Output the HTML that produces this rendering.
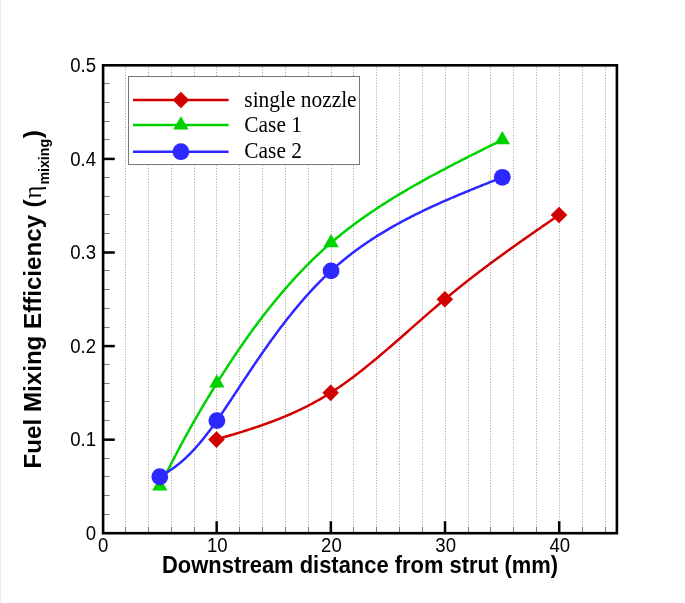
<!DOCTYPE html>
<html><head><meta charset="utf-8"><style>
html,body{margin:0;padding:0;background:#fff;}
body{width:685px;height:603px;overflow:hidden;position:relative;font-family:"Liberation Sans",sans-serif;}
svg{position:absolute;left:0;top:0;will-change:transform;}
.edge{position:absolute;left:0;top:0;width:1px;height:603px;background:#ececec;}
.edge2{position:absolute;left:1px;top:0;width:1px;height:603px;background:#fafafa;}
</style></head><body>
<div class="edge"></div><div class="edge2"></div>
<svg width="685" height="603" viewBox="0 0 685 603">
<line x1="125.50" y1="66.8" x2="125.50" y2="533.20" stroke="#a0a0a0" stroke-width="1" stroke-dasharray="1 1.7377"/>
<line x1="148.50" y1="66.8" x2="148.50" y2="533.20" stroke="#a0a0a0" stroke-width="1" stroke-dasharray="1 1.7377"/>
<line x1="171.50" y1="66.8" x2="171.50" y2="533.20" stroke="#a0a0a0" stroke-width="1" stroke-dasharray="1 1.7377"/>
<line x1="194.50" y1="66.8" x2="194.50" y2="533.20" stroke="#a0a0a0" stroke-width="1" stroke-dasharray="1 1.7377"/>
<line x1="216.50" y1="66.8" x2="216.50" y2="533.20" stroke="#a0a0a0" stroke-width="1" stroke-dasharray="1 1.7377"/>
<line x1="239.50" y1="66.8" x2="239.50" y2="533.20" stroke="#a0a0a0" stroke-width="1" stroke-dasharray="1 1.7377"/>
<line x1="262.50" y1="66.8" x2="262.50" y2="533.20" stroke="#a0a0a0" stroke-width="1" stroke-dasharray="1 1.7377"/>
<line x1="285.50" y1="66.8" x2="285.50" y2="533.20" stroke="#a0a0a0" stroke-width="1" stroke-dasharray="1 1.7377"/>
<line x1="308.50" y1="66.8" x2="308.50" y2="533.20" stroke="#a0a0a0" stroke-width="1" stroke-dasharray="1 1.7377"/>
<line x1="331.50" y1="66.8" x2="331.50" y2="533.20" stroke="#a0a0a0" stroke-width="1" stroke-dasharray="1 1.7377"/>
<line x1="353.50" y1="66.8" x2="353.50" y2="533.20" stroke="#a0a0a0" stroke-width="1" stroke-dasharray="1 1.7377"/>
<line x1="376.50" y1="66.8" x2="376.50" y2="533.20" stroke="#a0a0a0" stroke-width="1" stroke-dasharray="1 1.7377"/>
<line x1="399.50" y1="66.8" x2="399.50" y2="533.20" stroke="#a0a0a0" stroke-width="1" stroke-dasharray="1 1.7377"/>
<line x1="422.50" y1="66.8" x2="422.50" y2="533.20" stroke="#a0a0a0" stroke-width="1" stroke-dasharray="1 1.7377"/>
<line x1="445.50" y1="66.8" x2="445.50" y2="533.20" stroke="#a0a0a0" stroke-width="1" stroke-dasharray="1 1.7377"/>
<line x1="468.50" y1="66.8" x2="468.50" y2="533.20" stroke="#a0a0a0" stroke-width="1" stroke-dasharray="1 1.7377"/>
<line x1="490.50" y1="66.8" x2="490.50" y2="533.20" stroke="#a0a0a0" stroke-width="1" stroke-dasharray="1 1.7377"/>
<line x1="513.50" y1="66.8" x2="513.50" y2="533.20" stroke="#a0a0a0" stroke-width="1" stroke-dasharray="1 1.7377"/>
<line x1="536.50" y1="66.8" x2="536.50" y2="533.20" stroke="#a0a0a0" stroke-width="1" stroke-dasharray="1 1.7377"/>
<line x1="559.50" y1="66.8" x2="559.50" y2="533.20" stroke="#a0a0a0" stroke-width="1" stroke-dasharray="1 1.7377"/>
<line x1="582.50" y1="66.8" x2="582.50" y2="533.20" stroke="#a0a0a0" stroke-width="1" stroke-dasharray="1 1.7377"/>
<line x1="605.50" y1="66.8" x2="605.50" y2="533.20" stroke="#a0a0a0" stroke-width="1" stroke-dasharray="1 1.7377"/>
<rect x="128.5" y="76.5" width="231" height="88" fill="#fff" stroke="#777" stroke-width="1"/>
<line x1="133" y1="100" x2="228.6" y2="100" stroke="#d20000" stroke-width="2.5"/>
<path d="M180.90,91.70 L189.20,100.00 L180.90,108.30 L172.60,100.00Z" fill="#d20000"/>
<line x1="133" y1="125.1" x2="228.6" y2="125.1" stroke="#00d200" stroke-width="2.5"/>
<path d="M180.90,116.20 L188.60,129.50 L173.20,129.50Z" fill="#00d200"/>
<line x1="133" y1="151.7" x2="228.6" y2="151.7" stroke="#2d28ff" stroke-width="2.5"/>
<circle cx="180.90" cy="151.70" r="8.4" fill="#2d28ff"/>
<g font-family="Liberation Serif" font-size="21.4" fill="#000">
<text transform="translate(244.30,106.50) scale(1,1.07)" >single nozzle</text>
<text transform="translate(244.30,132.00) scale(1,1.07)" >Case 1</text>
<text transform="translate(244.30,157.50) scale(1,1.07)" >Case 2</text>
</g>
<line x1="103.10" y1="514.50" x2="109.60" y2="514.50" stroke="#808080" stroke-width="1"/>
<line x1="103.10" y1="495.50" x2="109.60" y2="495.50" stroke="#808080" stroke-width="1"/>
<line x1="103.10" y1="476.50" x2="109.60" y2="476.50" stroke="#808080" stroke-width="1"/>
<line x1="103.10" y1="458.50" x2="109.60" y2="458.50" stroke="#808080" stroke-width="1"/>
<line x1="103.10" y1="439.67" x2="114.80" y2="439.67" stroke="#000" stroke-width="2.5"/>
<line x1="103.10" y1="420.50" x2="109.60" y2="420.50" stroke="#808080" stroke-width="1"/>
<line x1="103.10" y1="401.50" x2="109.60" y2="401.50" stroke="#808080" stroke-width="1"/>
<line x1="103.10" y1="383.50" x2="109.60" y2="383.50" stroke="#808080" stroke-width="1"/>
<line x1="103.10" y1="364.50" x2="109.60" y2="364.50" stroke="#808080" stroke-width="1"/>
<line x1="103.10" y1="346.09" x2="114.80" y2="346.09" stroke="#000" stroke-width="2.5"/>
<line x1="103.10" y1="327.50" x2="109.60" y2="327.50" stroke="#808080" stroke-width="1"/>
<line x1="103.10" y1="308.50" x2="109.60" y2="308.50" stroke="#808080" stroke-width="1"/>
<line x1="103.10" y1="289.50" x2="109.60" y2="289.50" stroke="#808080" stroke-width="1"/>
<line x1="103.10" y1="270.50" x2="109.60" y2="270.50" stroke="#808080" stroke-width="1"/>
<line x1="103.10" y1="252.51" x2="114.80" y2="252.51" stroke="#000" stroke-width="2.5"/>
<line x1="103.10" y1="233.50" x2="109.60" y2="233.50" stroke="#808080" stroke-width="1"/>
<line x1="103.10" y1="214.50" x2="109.60" y2="214.50" stroke="#808080" stroke-width="1"/>
<line x1="103.10" y1="196.50" x2="109.60" y2="196.50" stroke="#808080" stroke-width="1"/>
<line x1="103.10" y1="177.50" x2="109.60" y2="177.50" stroke="#808080" stroke-width="1"/>
<line x1="103.10" y1="158.93" x2="114.80" y2="158.93" stroke="#000" stroke-width="2.5"/>
<line x1="103.10" y1="139.50" x2="109.60" y2="139.50" stroke="#808080" stroke-width="1"/>
<line x1="103.10" y1="121.50" x2="109.60" y2="121.50" stroke="#808080" stroke-width="1"/>
<line x1="103.10" y1="102.50" x2="109.60" y2="102.50" stroke="#808080" stroke-width="1"/>
<line x1="103.10" y1="83.50" x2="109.60" y2="83.50" stroke="#808080" stroke-width="1"/>
<line x1="125.50" y1="533.20" x2="125.50" y2="526.70" stroke="#808080" stroke-width="1"/>
<line x1="148.50" y1="533.20" x2="148.50" y2="526.70" stroke="#808080" stroke-width="1"/>
<line x1="171.50" y1="533.20" x2="171.50" y2="526.70" stroke="#808080" stroke-width="1"/>
<line x1="194.50" y1="533.20" x2="194.50" y2="526.70" stroke="#808080" stroke-width="1"/>
<line x1="216.68" y1="533.20" x2="216.68" y2="521.20" stroke="#000" stroke-width="2.5"/>
<line x1="239.50" y1="533.20" x2="239.50" y2="526.70" stroke="#808080" stroke-width="1"/>
<line x1="262.50" y1="533.20" x2="262.50" y2="526.70" stroke="#808080" stroke-width="1"/>
<line x1="285.50" y1="533.20" x2="285.50" y2="526.70" stroke="#808080" stroke-width="1"/>
<line x1="308.50" y1="533.20" x2="308.50" y2="526.70" stroke="#808080" stroke-width="1"/>
<line x1="330.86" y1="533.20" x2="330.86" y2="521.20" stroke="#000" stroke-width="2.5"/>
<line x1="353.50" y1="533.20" x2="353.50" y2="526.70" stroke="#808080" stroke-width="1"/>
<line x1="376.50" y1="533.20" x2="376.50" y2="526.70" stroke="#808080" stroke-width="1"/>
<line x1="399.50" y1="533.20" x2="399.50" y2="526.70" stroke="#808080" stroke-width="1"/>
<line x1="422.50" y1="533.20" x2="422.50" y2="526.70" stroke="#808080" stroke-width="1"/>
<line x1="445.03" y1="533.20" x2="445.03" y2="521.20" stroke="#000" stroke-width="2.5"/>
<line x1="468.50" y1="533.20" x2="468.50" y2="526.70" stroke="#808080" stroke-width="1"/>
<line x1="490.50" y1="533.20" x2="490.50" y2="526.70" stroke="#808080" stroke-width="1"/>
<line x1="513.50" y1="533.20" x2="513.50" y2="526.70" stroke="#808080" stroke-width="1"/>
<line x1="536.50" y1="533.20" x2="536.50" y2="526.70" stroke="#808080" stroke-width="1"/>
<line x1="559.21" y1="533.20" x2="559.21" y2="521.20" stroke="#000" stroke-width="2.5"/>
<line x1="582.50" y1="533.20" x2="582.50" y2="526.70" stroke="#808080" stroke-width="1"/>
<line x1="605.50" y1="533.20" x2="605.50" y2="526.70" stroke="#808080" stroke-width="1"/>
<rect x="103.10" y="65.30" width="513.80" height="467.90" fill="none" stroke="#000" stroke-width="2.6"/>
<g font-family="Liberation Sans" font-size="18.6" fill="#000">
<text transform="translate(96.00,539.90) scale(1,1.07)" text-anchor="end">0</text>
<text transform="translate(96.00,446.32) scale(1,1.07)" text-anchor="end">0.1</text>
<text transform="translate(96.00,352.74) scale(1,1.07)" text-anchor="end">0.2</text>
<text transform="translate(96.00,259.16) scale(1,1.07)" text-anchor="end">0.3</text>
<text transform="translate(96.00,165.58) scale(1,1.07)" text-anchor="end">0.4</text>
<text transform="translate(96.00,72.00) scale(1,1.07)" text-anchor="end">0.5</text>
<text transform="translate(103.10,552.20) scale(1,1.07)" text-anchor="middle">0</text>
<text transform="translate(217.28,552.20) scale(1,1.07)" text-anchor="middle">10</text>
<text transform="translate(331.46,552.20) scale(1,1.07)" text-anchor="middle">20</text>
<text transform="translate(445.63,552.20) scale(1,1.07)" text-anchor="middle">30</text>
<text transform="translate(559.81,552.20) scale(1,1.07)" text-anchor="middle">40</text>
</g>
<text transform="translate(162.00,573.00) scale(1,1.07)" font-family="Liberation Sans" font-weight="bold" font-size="22.2" textLength="396" lengthAdjust="spacingAndGlyphs">Downstream distance from strut (mm)</text>
<g transform="translate(40.8,0) rotate(-90)" font-family="Liberation Sans" font-weight="bold" fill="#000">
<text x="-468.4" y="0" font-size="24.5" textLength="253.5" lengthAdjust="spacingAndGlyphs">Fuel Mixing Efficiency</text>
<text x="-207.6" y="0" font-size="24.5">(</text>
<text x="-198.5" y="0" font-size="24.5" font-weight="normal" font-family="Liberation Serif">η</text>
<text x="-184.6" y="8.2" font-size="14.2">mixing</text>
<text x="-138.2" y="0" font-size="24.5">)</text>
</g>
<path d="M216.88,439.32 L217.74,439.07 L218.59,438.81 L219.45,438.56 L220.31,438.31 L221.17,438.05 L222.03,437.80 L222.89,437.54 L223.75,437.29 L224.60,437.04 L225.46,436.78 L226.32,436.53 L227.18,436.27 L228.04,436.01 L228.90,435.76 L229.75,435.50 L230.61,435.24 L231.47,434.99 L232.33,434.73 L233.19,434.47 L234.05,434.21 L234.91,433.95 L235.76,433.69 L236.62,433.43 L237.48,433.16 L238.34,432.90 L239.20,432.64 L240.06,432.37 L240.92,432.11 L241.77,431.84 L242.63,431.57 L243.49,431.30 L244.35,431.03 L245.21,430.76 L246.07,430.49 L246.92,430.22 L247.78,429.94 L248.64,429.67 L249.50,429.39 L250.36,429.11 L251.22,428.83 L252.08,428.55 L252.93,428.27 L253.79,427.99 L254.65,427.70 L255.51,427.41 L256.37,427.13 L257.23,426.84 L258.08,426.55 L258.94,426.25 L259.80,425.96 L260.66,425.66 L261.52,425.37 L262.38,425.07 L263.24,424.76 L264.09,424.46 L264.95,424.16 L265.81,423.85 L266.67,423.54 L267.53,423.23 L268.39,422.92 L269.25,422.60 L270.10,422.29 L270.96,421.97 L271.82,421.65 L272.68,421.33 L273.54,421.00 L274.40,420.67 L275.25,420.34 L276.11,420.01 L276.97,419.68 L277.83,419.34 L278.69,419.00 L279.55,418.66 L280.41,418.32 L281.26,417.97 L282.12,417.62 L282.98,417.27 L283.84,416.92 L284.70,416.56 L285.56,416.20 L286.41,415.84 L287.27,415.48 L288.13,415.11 L288.99,414.74 L289.85,414.37 L290.71,413.99 L291.57,413.62 L292.42,413.23 L293.28,412.85 L294.14,412.46 L295.00,412.07 L295.86,411.68 L296.72,411.28 L297.57,410.88 L298.43,410.48 L299.29,410.08 L300.15,409.67 L301.01,409.26 L301.87,408.84 L302.73,408.42 L303.58,408.00 L304.44,407.57 L305.30,407.15 L306.16,406.71 L307.02,406.28 L307.88,405.84 L308.74,405.40 L309.59,404.95 L310.45,404.50 L311.31,404.05 L312.17,403.59 L313.03,403.13 L313.89,402.66 L314.74,402.19 L315.60,401.72 L316.46,401.25 L317.32,400.77 L318.18,400.28 L319.04,399.79 L319.90,399.30 L320.75,398.81 L321.61,398.31 L322.47,397.80 L323.33,397.29 L324.19,396.78 L325.05,396.26 L325.90,395.74 L326.76,395.22 L327.62,394.69 L328.48,394.16 L329.34,393.62 L330.20,393.08 L331.06,392.53 L331.91,391.98 L332.77,391.42 L333.63,390.86 L334.49,390.30 L335.35,389.73 L336.21,389.16 L337.06,388.58 L337.92,388.00 L338.78,387.42 L339.64,386.83 L340.50,386.23 L341.36,385.64 L342.22,385.04 L343.07,384.43 L343.93,383.82 L344.79,383.21 L345.65,382.60 L346.51,381.98 L347.37,381.35 L348.23,380.73 L349.08,380.10 L349.94,379.47 L350.80,378.83 L351.66,378.19 L352.52,377.55 L353.38,376.90 L354.23,376.25 L355.09,375.60 L355.95,374.94 L356.81,374.28 L357.67,373.62 L358.53,372.95 L359.39,372.29 L360.24,371.61 L361.10,370.94 L361.96,370.26 L362.82,369.58 L363.68,368.90 L364.54,368.22 L365.39,367.53 L366.25,366.84 L367.11,366.15 L367.97,365.46 L368.83,364.76 L369.69,364.06 L370.55,363.36 L371.40,362.65 L372.26,361.95 L373.12,361.24 L373.98,360.53 L374.84,359.82 L375.70,359.10 L376.55,358.39 L377.41,357.67 L378.27,356.95 L379.13,356.23 L379.99,355.50 L380.85,354.78 L381.71,354.05 L382.56,353.32 L383.42,352.59 L384.28,351.86 L385.14,351.13 L386.00,350.39 L386.86,349.65 L387.72,348.92 L388.57,348.18 L389.43,347.44 L390.29,346.70 L391.15,345.95 L392.01,345.21 L392.87,344.47 L393.72,343.72 L394.58,342.97 L395.44,342.23 L396.30,341.48 L397.16,340.73 L398.02,339.98 L398.88,339.23 L399.73,338.48 L400.59,337.73 L401.45,336.97 L402.31,336.22 L403.17,335.47 L404.03,334.71 L404.88,333.96 L405.74,333.20 L406.60,332.45 L407.46,331.69 L408.32,330.94 L409.18,330.18 L410.04,329.43 L410.89,328.67 L411.75,327.92 L412.61,327.16 L413.47,326.40 L414.33,325.65 L415.19,324.89 L416.05,324.14 L416.90,323.38 L417.76,322.63 L418.62,321.88 L419.48,321.12 L420.34,320.37 L421.20,319.62 L422.05,318.87 L422.91,318.11 L423.77,317.36 L424.63,316.61 L425.49,315.86 L426.35,315.12 L427.21,314.37 L428.06,313.62 L428.92,312.88 L429.78,312.13 L430.64,311.39 L431.50,310.64 L432.36,309.90 L433.21,309.16 L434.07,308.42 L434.93,307.69 L435.79,306.95 L436.65,306.21 L437.51,305.48 L438.37,304.75 L439.22,304.02 L440.08,303.29 L440.94,302.56 L441.80,301.84 L442.66,301.11 L443.52,300.39 L444.37,299.67 L445.23,298.95 L446.09,298.23 L446.95,297.52 L447.81,296.81 L448.67,296.09 L449.53,295.39 L450.38,294.68 L451.24,293.97 L452.10,293.27 L452.96,292.57 L453.82,291.87 L454.68,291.17 L455.54,290.47 L456.39,289.78 L457.25,289.08 L458.11,288.39 L458.97,287.70 L459.83,287.01 L460.69,286.33 L461.54,285.64 L462.40,284.96 L463.26,284.28 L464.12,283.60 L464.98,282.92 L465.84,282.24 L466.70,281.57 L467.55,280.89 L468.41,280.22 L469.27,279.55 L470.13,278.88 L470.99,278.21 L471.85,277.55 L472.70,276.88 L473.56,276.22 L474.42,275.56 L475.28,274.90 L476.14,274.24 L477.00,273.58 L477.86,272.92 L478.71,272.27 L479.57,271.61 L480.43,270.96 L481.29,270.31 L482.15,269.66 L483.01,269.01 L483.86,268.37 L484.72,267.72 L485.58,267.07 L486.44,266.43 L487.30,265.79 L488.16,265.15 L489.02,264.51 L489.87,263.87 L490.73,263.23 L491.59,262.60 L492.45,261.96 L493.31,261.33 L494.17,260.69 L495.03,260.06 L495.88,259.43 L496.74,258.80 L497.60,258.17 L498.46,257.55 L499.32,256.92 L500.18,256.29 L501.03,255.67 L501.89,255.04 L502.75,254.42 L503.61,253.80 L504.47,253.18 L505.33,252.56 L506.19,251.94 L507.04,251.32 L507.90,250.71 L508.76,250.09 L509.62,249.47 L510.48,248.86 L511.34,248.24 L512.19,247.63 L513.05,247.02 L513.91,246.41 L514.77,245.80 L515.63,245.19 L516.49,244.58 L517.35,243.97 L518.20,243.36 L519.06,242.75 L519.92,242.15 L520.78,241.54 L521.64,240.94 L522.50,240.33 L523.35,239.73 L524.21,239.12 L525.07,238.52 L525.93,237.92 L526.79,237.32 L527.65,236.72 L528.51,236.12 L529.36,235.52 L530.22,234.92 L531.08,234.32 L531.94,233.72 L532.80,233.12 L533.66,232.52 L534.52,231.93 L535.37,231.33 L536.23,230.73 L537.09,230.14 L537.95,229.54 L538.81,228.95 L539.67,228.35 L540.52,227.76 L541.38,227.16 L542.24,226.57 L543.10,225.97 L543.96,225.38 L544.82,224.79 L545.68,224.19 L546.53,223.60 L547.39,223.01 L548.25,222.42 L549.11,221.82 L549.97,221.23 L550.83,220.64 L551.68,220.05 L552.54,219.46 L553.40,218.87 L554.26,218.27 L555.12,217.68 L555.98,217.09 L556.84,216.50 L557.69,215.91 L558.55,215.32 L559.41,214.73" fill="none" stroke="#d20000" stroke-width="2.5" stroke-linejoin="round"/>
<path d="M216.48,431.32 L224.78,439.62 L216.48,447.92 L208.18,439.62Z" fill="#d20000"/>
<path d="M330.66,384.53 L338.96,392.83 L330.66,401.13 L322.36,392.83Z" fill="#d20000"/>
<path d="M444.83,290.95 L453.13,299.25 L444.83,307.55 L436.53,299.25Z" fill="#d20000"/>
<path d="M559.01,206.73 L567.31,215.03 L559.01,223.33 L550.71,215.03Z" fill="#d20000"/>
<path d="M159.79,486.11 L160.13,485.43 L160.48,484.75 L160.82,484.07 L161.16,483.39 L161.51,482.71 L161.85,482.03 L162.19,481.35 L162.54,480.67 L162.88,479.98 L163.23,479.30 L163.57,478.62 L163.92,477.94 L164.26,477.26 L164.61,476.57 L164.96,475.89 L165.30,475.21 L165.65,474.52 L166.00,473.84 L166.35,473.15 L166.70,472.46 L167.05,471.78 L167.40,471.09 L167.75,470.40 L168.10,469.71 L168.45,469.02 L168.80,468.33 L169.16,467.64 L169.51,466.95 L169.87,466.26 L170.22,465.56 L170.58,464.87 L170.94,464.17 L171.30,463.47 L171.65,462.78 L172.02,462.08 L172.38,461.38 L172.74,460.68 L173.10,459.97 L173.47,459.27 L173.84,458.56 L174.20,457.86 L174.57,457.15 L174.94,456.44 L175.31,455.73 L175.68,455.02 L176.06,454.31 L176.43,453.59 L176.81,452.88 L177.19,452.16 L177.57,451.44 L177.95,450.72 L178.33,450.00 L178.71,449.27 L179.10,448.55 L179.48,447.82 L179.87,447.09 L180.26,446.36 L180.65,445.63 L181.05,444.89 L181.44,444.16 L181.84,443.42 L182.24,442.68 L182.64,441.93 L183.04,441.19 L183.44,440.44 L183.85,439.69 L184.26,438.94 L184.67,438.19 L185.08,437.44 L185.49,436.68 L185.91,435.92 L186.32,435.16 L186.74,434.40 L187.17,433.63 L187.59,432.86 L188.02,432.09 L188.45,431.32 L188.88,430.54 L189.31,429.76 L189.75,428.98 L190.18,428.20 L190.62,427.41 L191.07,426.62 L191.51,425.83 L191.96,425.04 L192.41,424.24 L192.86,423.44 L193.31,422.64 L193.77,421.84 L194.23,421.03 L194.69,420.22 L195.16,419.41 L195.63,418.59 L196.10,417.77 L196.57,416.95 L197.05,416.12 L197.53,415.29 L198.01,414.46 L198.49,413.63 L198.98,412.79 L199.47,411.95 L199.97,411.11 L200.46,410.26 L200.96,409.41 L201.46,408.55 L201.97,407.70 L202.48,406.84 L202.99,405.97 L203.50,405.10 L204.02,404.23 L204.54,403.36 L205.07,402.48 L205.59,401.60 L206.13,400.71 L206.66,399.83 L207.20,398.93 L207.74,398.04 L208.28,397.14 L208.83,396.23 L209.38,395.33 L209.94,394.42 L210.50,393.50 L211.06,392.58 L211.62,391.66 L212.19,390.73 L212.76,389.80 L213.34,388.87 L213.92,387.93 L214.50,386.98 L215.09,386.04 L215.68,385.09 L216.28,384.13 L216.88,383.17 L217.48,382.21 L218.09,381.24 L218.70,380.27 L219.31,379.29 L219.93,378.31 L220.55,377.33 L221.18,376.34 L221.81,375.35 L222.44,374.35 L223.08,373.36 L223.72,372.35 L224.37,371.35 L225.02,370.34 L225.67,369.32 L226.33,368.31 L226.99,367.29 L227.65,366.27 L228.32,365.24 L228.99,364.21 L229.67,363.18 L230.35,362.14 L231.04,361.11 L231.72,360.06 L232.42,359.02 L233.11,357.98 L233.81,356.93 L234.51,355.87 L235.22,354.82 L235.93,353.76 L236.65,352.71 L237.37,351.64 L238.09,350.58 L238.82,349.52 L239.55,348.45 L240.28,347.38 L241.02,346.31 L241.76,345.23 L242.51,344.16 L243.26,343.08 L244.01,342.00 L244.77,340.92 L245.53,339.84 L246.30,338.75 L247.07,337.67 L247.84,336.58 L248.62,335.49 L249.40,334.40 L250.18,333.31 L250.97,332.22 L251.77,331.13 L252.56,330.03 L253.36,328.94 L254.17,327.84 L254.97,326.75 L255.79,325.65 L256.60,324.55 L257.42,323.45 L258.25,322.35 L259.07,321.25 L259.91,320.15 L260.74,319.05 L261.58,317.95 L262.42,316.84 L263.27,315.74 L264.12,314.64 L264.97,313.54 L265.83,312.44 L266.70,311.33 L267.56,310.23 L268.43,309.13 L269.31,308.03 L270.18,306.93 L271.07,305.82 L271.95,304.72 L272.84,303.62 L273.73,302.52 L274.63,301.42 L275.53,300.33 L276.44,299.23 L277.35,298.13 L278.26,297.04 L279.17,295.94 L280.10,294.85 L281.02,293.75 L281.95,292.66 L282.88,291.57 L283.82,290.48 L284.76,289.39 L285.70,288.31 L286.65,287.22 L287.60,286.14 L288.55,285.05 L289.51,283.97 L290.48,282.89 L291.44,281.82 L292.41,280.74 L293.39,279.67 L294.37,278.60 L295.35,277.53 L296.34,276.46 L297.33,275.39 L298.32,274.33 L299.32,273.27 L300.32,272.21 L301.33,271.15 L302.33,270.10 L303.35,269.05 L304.37,268.00 L305.39,266.95 L306.41,265.91 L307.44,264.87 L308.47,263.83 L309.51,262.80 L310.55,261.76 L311.59,260.73 L312.64,259.71 L313.69,258.69 L314.75,257.67 L315.81,256.65 L316.87,255.64 L317.94,254.63 L319.01,253.62 L320.09,252.62 L321.17,251.62 L322.25,250.62 L323.34,249.63 L324.43,248.65 L325.52,247.66 L326.62,246.68 L327.72,245.71 L328.83,244.73 L329.94,243.77 L331.06,242.80 L332.17,241.84 L333.30,240.89 L334.42,239.94 L335.55,238.99 L336.68,238.05 L337.82,237.11 L338.96,236.17 L340.11,235.24 L341.25,234.32 L342.40,233.39 L343.56,232.47 L344.72,231.56 L345.88,230.65 L347.05,229.74 L348.22,228.84 L349.39,227.94 L350.56,227.04 L351.74,226.15 L352.93,225.26 L354.11,224.37 L355.30,223.49 L356.49,222.61 L357.69,221.74 L358.89,220.87 L360.09,220.00 L361.30,219.14 L362.50,218.28 L363.72,217.42 L364.93,216.57 L366.15,215.72 L367.37,214.87 L368.59,214.02 L369.82,213.18 L371.05,212.35 L372.28,211.51 L373.52,210.68 L374.75,209.85 L375.99,209.03 L377.24,208.20 L378.48,207.38 L379.73,206.57 L380.98,205.75 L382.24,204.94 L383.50,204.14 L384.76,203.33 L386.02,202.53 L387.28,201.73 L388.55,200.93 L389.82,200.14 L391.09,199.35 L392.37,198.56 L393.64,197.78 L394.92,196.99 L396.20,196.21 L397.49,195.43 L398.77,194.66 L400.06,193.88 L401.35,193.11 L402.64,192.34 L403.94,191.58 L405.24,190.81 L406.54,190.05 L407.84,189.29 L409.14,188.54 L410.45,187.78 L411.75,187.03 L413.06,186.28 L414.37,185.53 L415.69,184.78 L417.00,184.04 L418.32,183.30 L419.64,182.56 L420.96,181.82 L422.28,181.08 L423.60,180.35 L424.93,179.62 L426.25,178.88 L427.58,178.15 L428.91,177.43 L430.25,176.70 L431.58,175.98 L432.91,175.26 L434.25,174.53 L435.59,173.82 L436.93,173.10 L438.27,172.38 L439.61,171.67 L440.95,170.95 L442.30,170.24 L443.64,169.53 L444.99,168.82 L446.34,168.12 L447.69,167.41 L449.04,166.70 L450.39,166.00 L451.75,165.30 L453.10,164.60 L454.46,163.90 L455.81,163.20 L457.17,162.50 L458.53,161.80 L459.89,161.11 L461.25,160.41 L462.61,159.72 L463.97,159.02 L465.33,158.33 L466.69,157.64 L468.06,156.95 L469.42,156.26 L470.79,155.57 L472.16,154.88 L473.52,154.20 L474.89,153.51 L476.26,152.82 L477.63,152.14 L479.00,151.45 L480.37,150.77 L481.74,150.08 L483.11,149.40 L484.48,148.72 L485.85,148.04 L487.22,147.35 L488.59,146.67 L489.96,145.99 L491.34,145.31 L492.71,144.63 L494.08,143.95 L495.45,143.27 L496.83,142.58 L498.20,141.90 L499.58,141.22 L500.95,140.54 L502.32,139.86" fill="none" stroke="#00d200" stroke-width="2.5" stroke-linejoin="round"/>
<path d="M159.79,477.21 L167.49,490.51 L152.09,490.51Z" fill="#00d200"/>
<path d="M216.88,374.27 L224.58,387.57 L209.18,387.57Z" fill="#00d200"/>
<path d="M331.06,233.90 L338.76,247.20 L323.36,247.20Z" fill="#00d200"/>
<path d="M502.32,130.96 L510.02,144.26 L494.62,144.26Z" fill="#00d200"/>
<path d="M159.79,476.75 L160.13,476.55 L160.48,476.34 L160.82,476.13 L161.16,475.93 L161.51,475.72 L161.85,475.51 L162.19,475.30 L162.54,475.09 L162.88,474.89 L163.23,474.68 L163.57,474.47 L163.92,474.25 L164.26,474.04 L164.61,473.83 L164.96,473.61 L165.30,473.40 L165.65,473.18 L166.00,472.97 L166.35,472.75 L166.70,472.53 L167.05,472.30 L167.40,472.08 L167.75,471.86 L168.10,471.63 L168.45,471.40 L168.80,471.17 L169.16,470.94 L169.51,470.71 L169.87,470.47 L170.22,470.23 L170.58,469.99 L170.94,469.75 L171.30,469.50 L171.65,469.26 L172.02,469.01 L172.38,468.75 L172.74,468.50 L173.10,468.24 L173.47,467.98 L173.84,467.72 L174.20,467.45 L174.57,467.18 L174.94,466.91 L175.31,466.63 L175.68,466.35 L176.06,466.07 L176.43,465.79 L176.81,465.50 L177.19,465.20 L177.57,464.91 L177.95,464.61 L178.33,464.30 L178.71,464.00 L179.10,463.69 L179.48,463.37 L179.87,463.05 L180.26,462.73 L180.65,462.40 L181.05,462.07 L181.44,461.73 L181.84,461.39 L182.24,461.05 L182.64,460.70 L183.04,460.35 L183.44,459.99 L183.85,459.62 L184.26,459.25 L184.67,458.88 L185.08,458.50 L185.49,458.12 L185.91,457.73 L186.32,457.34 L186.74,456.94 L187.17,456.54 L187.59,456.13 L188.02,455.71 L188.45,455.29 L188.88,454.86 L189.31,454.43 L189.75,454.00 L190.18,453.55 L190.62,453.10 L191.07,452.65 L191.51,452.19 L191.96,451.72 L192.41,451.24 L192.86,450.76 L193.31,450.28 L193.77,449.78 L194.23,449.28 L194.69,448.78 L195.16,448.27 L195.63,447.75 L196.10,447.22 L196.57,446.69 L197.05,446.15 L197.53,445.60 L198.01,445.04 L198.49,444.48 L198.98,443.91 L199.47,443.34 L199.97,442.76 L200.46,442.16 L200.96,441.57 L201.46,440.96 L201.97,440.35 L202.48,439.72 L202.99,439.10 L203.50,438.46 L204.02,437.81 L204.54,437.16 L205.07,436.50 L205.59,435.83 L206.13,435.15 L206.66,434.47 L207.20,433.77 L207.74,433.07 L208.28,432.36 L208.83,431.64 L209.38,430.91 L209.94,430.17 L210.50,429.42 L211.06,428.67 L211.62,427.90 L212.19,427.13 L212.76,426.35 L213.34,425.55 L213.92,424.75 L214.50,423.94 L215.09,423.12 L215.68,422.29 L216.28,421.45 L216.88,420.60 L217.48,419.75 L218.09,418.88 L218.70,418.00 L219.31,417.11 L219.93,416.22 L220.55,415.31 L221.18,414.40 L221.81,413.47 L222.44,412.54 L223.08,411.60 L223.72,410.65 L224.37,409.70 L225.02,408.73 L225.67,407.76 L226.33,406.77 L226.99,405.79 L227.65,404.79 L228.32,403.78 L228.99,402.77 L229.67,401.75 L230.35,400.73 L231.04,399.69 L231.72,398.65 L232.42,397.60 L233.11,396.55 L233.81,395.49 L234.51,394.42 L235.22,393.35 L235.93,392.27 L236.65,391.19 L237.37,390.09 L238.09,389.00 L238.82,387.89 L239.55,386.79 L240.28,385.67 L241.02,384.55 L241.76,383.43 L242.51,382.30 L243.26,381.16 L244.01,380.03 L244.77,378.88 L245.53,377.73 L246.30,376.58 L247.07,375.43 L247.84,374.26 L248.62,373.10 L249.40,371.93 L250.18,370.76 L250.97,369.58 L251.77,368.40 L252.56,367.22 L253.36,366.03 L254.17,364.84 L254.97,363.65 L255.79,362.46 L256.60,361.26 L257.42,360.06 L258.25,358.86 L259.07,357.65 L259.91,356.44 L260.74,355.23 L261.58,354.02 L262.42,352.81 L263.27,351.59 L264.12,350.38 L264.97,349.16 L265.83,347.94 L266.70,346.72 L267.56,345.49 L268.43,344.27 L269.31,343.05 L270.18,341.82 L271.07,340.60 L271.95,339.37 L272.84,338.15 L273.73,336.92 L274.63,335.70 L275.53,334.47 L276.44,333.24 L277.35,332.02 L278.26,330.79 L279.17,329.57 L280.10,328.35 L281.02,327.12 L281.95,325.90 L282.88,324.68 L283.82,323.46 L284.76,322.24 L285.70,321.03 L286.65,319.81 L287.60,318.60 L288.55,317.39 L289.51,316.18 L290.48,314.97 L291.44,313.76 L292.41,312.56 L293.39,311.36 L294.37,310.16 L295.35,308.97 L296.34,307.78 L297.33,306.59 L298.32,305.40 L299.32,304.22 L300.32,303.04 L301.33,301.86 L302.33,300.69 L303.35,299.52 L304.37,298.36 L305.39,297.20 L306.41,296.04 L307.44,294.89 L308.47,293.74 L309.51,292.60 L310.55,291.46 L311.59,290.32 L312.64,289.20 L313.69,288.07 L314.75,286.95 L315.81,285.84 L316.87,284.73 L317.94,283.63 L319.01,282.53 L320.09,281.44 L321.17,280.36 L322.25,279.28 L323.34,278.20 L324.43,277.14 L325.52,276.08 L326.62,275.02 L327.72,273.98 L328.83,272.94 L329.94,271.90 L331.06,270.88 L332.17,269.86 L333.30,268.85 L334.42,267.84 L335.55,266.84 L336.68,265.85 L337.82,264.87 L338.96,263.89 L340.11,262.92 L341.25,261.96 L342.40,261.00 L343.56,260.05 L344.72,259.11 L345.88,258.17 L347.05,257.24 L348.22,256.32 L349.39,255.40 L350.56,254.49 L351.74,253.58 L352.93,252.68 L354.11,251.79 L355.30,250.90 L356.49,250.02 L357.69,249.15 L358.89,248.28 L360.09,247.42 L361.30,246.56 L362.50,245.71 L363.72,244.87 L364.93,244.03 L366.15,243.19 L367.37,242.36 L368.59,241.54 L369.82,240.72 L371.05,239.91 L372.28,239.11 L373.52,238.30 L374.75,237.51 L375.99,236.72 L377.24,235.93 L378.48,235.15 L379.73,234.38 L380.98,233.61 L382.24,232.84 L383.50,232.08 L384.76,231.32 L386.02,230.57 L387.28,229.83 L388.55,229.08 L389.82,228.35 L391.09,227.61 L392.37,226.89 L393.64,226.16 L394.92,225.44 L396.20,224.73 L397.49,224.02 L398.77,223.31 L400.06,222.61 L401.35,221.91 L402.64,221.21 L403.94,220.52 L405.24,219.84 L406.54,219.16 L407.84,218.48 L409.14,217.80 L410.45,217.13 L411.75,216.46 L413.06,215.80 L414.37,215.14 L415.69,214.48 L417.00,213.83 L418.32,213.18 L419.64,212.53 L420.96,211.89 L422.28,211.25 L423.60,210.61 L424.93,209.98 L426.25,209.35 L427.58,208.72 L428.91,208.10 L430.25,207.48 L431.58,206.86 L432.91,206.24 L434.25,205.63 L435.59,205.02 L436.93,204.41 L438.27,203.81 L439.61,203.20 L440.95,202.60 L442.30,202.01 L443.64,201.41 L444.99,200.82 L446.34,200.23 L447.69,199.64 L449.04,199.05 L450.39,198.47 L451.75,197.89 L453.10,197.31 L454.46,196.73 L455.81,196.15 L457.17,195.58 L458.53,195.00 L459.89,194.43 L461.25,193.86 L462.61,193.30 L463.97,192.73 L465.33,192.16 L466.69,191.60 L468.06,191.04 L469.42,190.48 L470.79,189.92 L472.16,189.36 L473.52,188.81 L474.89,188.25 L476.26,187.70 L477.63,187.14 L479.00,186.59 L480.37,186.04 L481.74,185.49 L483.11,184.94 L484.48,184.39 L485.85,183.84 L487.22,183.29 L488.59,182.75 L489.96,182.20 L491.34,181.65 L492.71,181.11 L494.08,180.56 L495.45,180.02 L496.83,179.47 L498.20,178.93 L499.58,178.38 L500.95,177.84 L502.32,177.30" fill="none" stroke="#2d28ff" stroke-width="2.5" stroke-linejoin="round"/>
<circle cx="159.79" cy="476.75" r="8.4" fill="#2d28ff"/>
<circle cx="216.88" cy="420.60" r="8.4" fill="#2d28ff"/>
<circle cx="331.06" cy="270.88" r="8.4" fill="#2d28ff"/>
<circle cx="502.32" cy="177.30" r="8.4" fill="#2d28ff"/>
</svg>
</body></html>
